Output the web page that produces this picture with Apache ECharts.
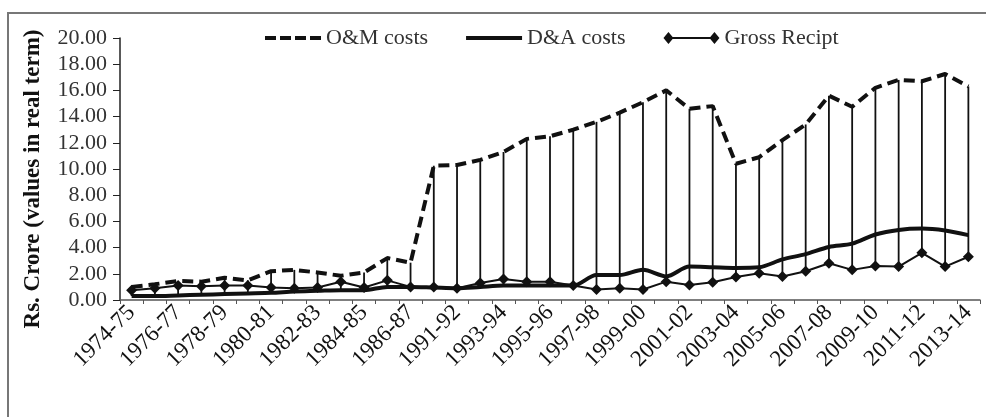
<!DOCTYPE html>
<html>
<head>
<meta charset="utf-8">
<script src="https://cdn.jsdelivr.net/npm/echarts@6/dist/echarts.min.js"></script>
<style>
html,body{margin:0;padding:0;background:#fff;}
#c{width:986px;height:417px;}
</style>
</head>
<body>
<div id="c"></div>
<script>
var categories = ['1974-75','1975-76','1976-77','1977-78','1978-79','1979-80','1980-81','1981-82','1982-83','1983-84','1984-85','1985-86','1986-87','1990-91','1991-92','1992-93','1993-94','1994-95','1995-96','1996-97','1997-98','1998-99','1999-00','2000-01','2001-02','2002-03','2003-04','2004-05','2005-06','2006-07','2007-08','2008-09','2009-10','2010-11','2011-12','2012-13','2013-14'];
var omCosts = [1.0,1.2,1.45,1.4,1.7,1.5,2.2,2.3,2.1,1.85,2.1,3.2,2.85,10.25,10.3,10.7,11.3,12.3,12.5,13.0,13.6,14.3,15.1,16.0,14.6,14.8,10.4,10.9,12.2,13.4,15.6,14.75,16.2,16.8,16.7,17.25,16.3];
var daCosts = [0.3,0.3,0.35,0.4,0.45,0.5,0.55,0.65,0.7,0.75,0.75,1.0,1.0,0.95,0.9,1.0,1.1,1.1,1.1,1.1,1.9,1.9,2.3,1.8,2.55,2.5,2.45,2.5,3.1,3.5,4.05,4.3,5.0,5.35,5.45,5.3,4.95];
var grossReceipt = [0.75,0.9,1.1,1.05,1.1,1.1,0.95,0.9,0.95,1.4,0.95,1.5,1.0,1.0,0.9,1.3,1.6,1.4,1.4,1.1,0.8,0.9,0.8,1.4,1.15,1.35,1.75,2.05,1.8,2.2,2.8,2.3,2.6,2.55,3.6,2.55,3.3];
var yTicks = [0,2,4,6,8,10,12,14,16,18,20];
var seriesNames = ['O&M costs','D&A costs','Gross Recipt'];

var hiLow = categories.map(function(c,i){
  var vals=[omCosts[i],daCosts[i],grossReceipt[i]];
  return [i, Math.max.apply(null,vals), Math.min.apply(null,vals)];
});

var FONT = '"Liberation Serif","DejaVu Serif",serif';
var ICON_DASH = 'path://M0,0L0,0M56,12L56,12M0,4h11v4h-11zM15,4h11v4h-11zM30,4h11v4h-11zM45,4h11v4h-11z';
var ICON_SOLID = 'path://M0,0L0,0M56,12L56,12M0,4h56v4h-56z';
var ICON_DIAMOND = 'path://M0,6L5,0L10,6L5,12zM46,6L51,0L56,6L51,12zM5,5h46v2h-46z';

var chart = echarts.init(document.getElementById('c'));
chart.setOption({
  animation:false,
  backgroundColor:'#fff',
  grid:{left:120,right:6,top:38,bottom:117,containLabel:false},
  legend:{
    top:22,left:260,itemWidth:56,itemHeight:12,itemGap:38,
    itemStyle:{borderWidth:0},
    textStyle:{fontFamily:FONT,fontSize:22,color:'#333'},
    data:[
      {name:seriesNames[0],icon:ICON_DASH},
      {name:seriesNames[1],icon:ICON_SOLID},
      {name:seriesNames[2],icon:ICON_DIAMOND}
    ]
  },
  xAxis:{
    type:'category',data:categories,boundaryGap:true,
    axisLine:{lineStyle:{color:'#555',width:1.5}},
    axisTick:{show:true,length:4,interval:0,lineStyle:{color:'#555'}},
    axisLabel:{interval:1,rotate:45,fontFamily:FONT,fontSize:23,color:'#111',margin:9}
  },
  yAxis:{
    type:'value',min:yTicks[0],max:yTicks[yTicks.length-1],interval:2,
    splitLine:{show:false},
    axisLine:{show:true,lineStyle:{color:'#222',width:1.5}},
    axisTick:{show:true,length:7,lineStyle:{color:'#222'}},
    axisLabel:{fontFamily:FONT,fontSize:22,color:'#333',margin:13,formatter:function(v){return v.toFixed(2);}}
  },
  graphic:[
    {type:'rect',shape:{x:8,y:13,width:990,height:420},style:{fill:'none',stroke:'#777',lineWidth:2},silent:true},
    {type:'text',x:33,y:179,rotation:Math.PI/2,style:{text:'Rs. Crore (values in real term)',fontFamily:FONT,fontSize:23,fontWeight:'bold',fill:'#111',align:'center',verticalAlign:'middle'}}
  ],
  series:[
    {
      type:'custom',name:'hilow',data:hiLow,z:1,silent:true,
      renderItem:function(params,api){
        var p1=api.coord([api.value(0),api.value(1)]);
        var p2=api.coord([api.value(0),api.value(2)]);
        return {type:'line',shape:{x1:p1[0],y1:p1[1],x2:p2[0],y2:p2[1]},style:{stroke:'#111',lineWidth:1.8}};
      }
    },
    {name:seriesNames[0],type:'line',data:omCosts,symbol:'none',z:3,
      lineStyle:{color:'#111',width:4,type:[11,6]},itemStyle:{color:'#111'}},
    {name:seriesNames[1],type:'line',data:daCosts,symbol:'none',smooth:0.3,z:3,
      lineStyle:{color:'#111',width:4},itemStyle:{color:'#111'}},
    {name:seriesNames[2],type:'line',data:grossReceipt,symbol:'diamond',symbolSize:11,z:4,
      lineStyle:{color:'#111',width:2},itemStyle:{color:'#111'}}
  ]
});
</script>
</body>
</html>
